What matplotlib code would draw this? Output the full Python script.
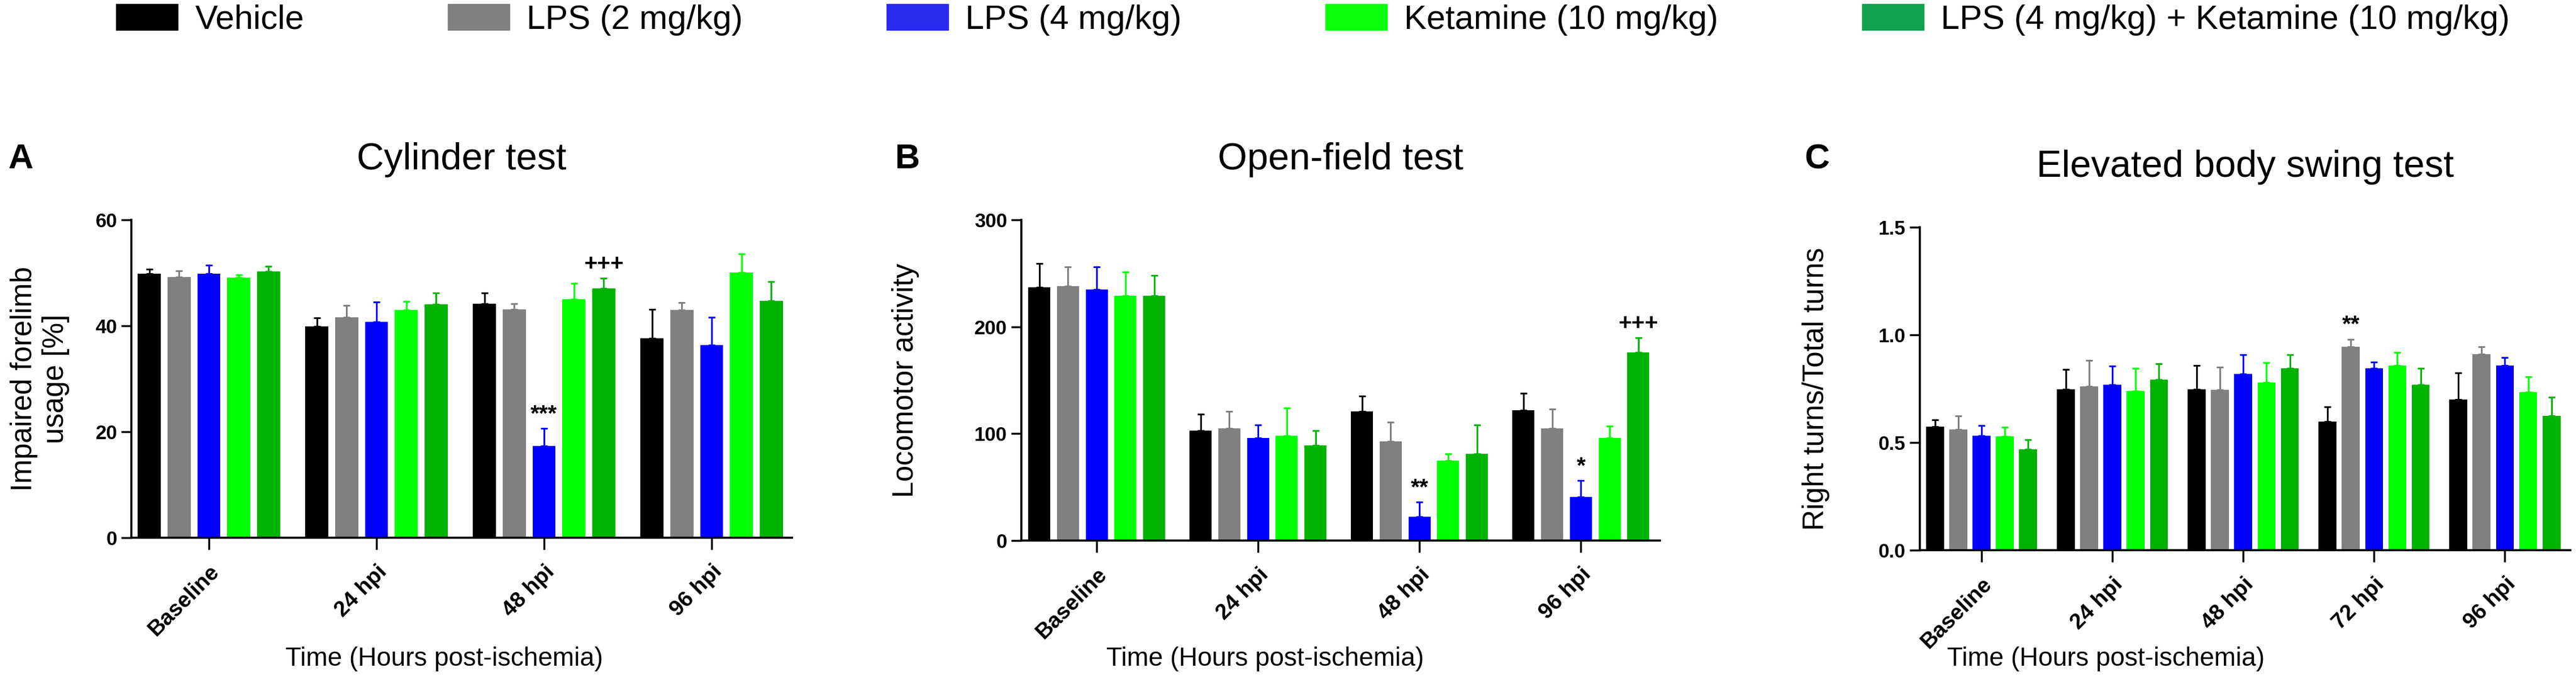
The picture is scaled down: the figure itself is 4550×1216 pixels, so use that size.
import matplotlib
matplotlib.use('Agg')
import matplotlib.pyplot as plt
from matplotlib.patches import Patch
import numpy as np

plt.rcParams['font.family'] = ['Liberation Sans', 'DejaVu Sans']

treatments = ['Vehicle', 'LPS (2 mg/kg)', 'LPS (4 mg/kg)', 'Ketamine (10 mg/kg)',
              'LPS (4 mg/kg) + Ketamine (10 mg/kg)']
bar_colors = ['#000000', '#808080', '#0000FF', '#00FF00', '#00B300']
legend_colors = ['#000000', '#808080', '#2B2BF0', '#0CFF0C', '#0FA34F']

groups_ab = ['Baseline', '24 hpi', '48 hpi', '96 hpi']
groups_c = ['Baseline', '24 hpi', '48 hpi', '72 hpi', '96 hpi']

# Cylinder test, impaired forelimb usage [%] (one row per treatment)
cyl_mean = [[49.8, 39.9, 44.2, 37.6],
            [49.2, 41.6, 43.1, 43.0],
            [49.8, 40.7, 17.3, 36.4],
            [49.1, 43.0, 45.0, 50.1],
            [50.3, 44.1, 47.1, 44.7]]
cyl_sem = [[0.9, 1.6, 2.0, 5.5],
           [1.2, 2.3, 1.1, 1.4],
           [1.6, 3.8, 3.3, 5.2],
           [0.5, 1.6, 3.0, 3.5],
           [0.9, 2.1, 1.9, 3.6]]

# Open-field test, locomotor activity
of_mean = [[237, 103, 121, 122],
           [238, 105, 93, 105],
           [235, 96, 22, 41],
           [229, 98, 75, 96],
           [229, 89, 81, 176]]
of_sem = [[22, 15, 14, 16],
          [18, 16, 18, 18],
          [21, 12, 14, 15],
          [22, 26, 6, 11],
          [19, 14, 27, 14]]

# Elevated body swing test, right turns / total turns
ebst_mean = [[0.574, 0.748, 0.748, 0.598, 0.699],
             [0.560, 0.760, 0.745, 0.944, 0.910],
             [0.531, 0.769, 0.819, 0.845, 0.858],
             [0.529, 0.739, 0.780, 0.858, 0.733],
             [0.469, 0.793, 0.845, 0.769, 0.625]]
ebst_sem = [[0.031, 0.091, 0.111, 0.067, 0.126],
            [0.064, 0.121, 0.104, 0.036, 0.034],
            [0.047, 0.087, 0.088, 0.030, 0.036],
            [0.043, 0.106, 0.090, 0.061, 0.072],
            [0.044, 0.073, 0.062, 0.076, 0.086]]

# significance marks: (group index, treatment index, text)
cyl_marks = [(2, 2, '***'), (2, 4, '+++')]
of_marks = [(2, 2, '**'), (3, 2, '*'), (3, 4, '+++')]
ebst_marks = [(3, 1, '**')]

step = 0.178
width = 0.137


def draw_panel(ax, groups, means, sems, marks, yticks, ylim, xlim, title, ylabel,
               ylabel_x, fmt=None):
    x = np.arange(len(groups))
    for i in range(len(treatments)):
        pos = x + (i - 2) * step
        m = np.array(means[i])
        s = np.array(sems[i])
        ax.bar(pos, m, width=width, color=bar_colors[i], zorder=2)
        ax.errorbar(pos, m, yerr=[np.zeros_like(s), s], fmt='none', ecolor=bar_colors[i],
                    elinewidth=2.2, capsize=4, capthick=2.2, zorder=1)
    for g, t, txt in marks:
        ax.annotate(txt, (g + (t - 2) * step, means[t][g] + sems[t][g]),
                    xytext=(0, 4), textcoords='offset points', ha='center', va='bottom',
                    fontsize=29, fontweight='bold')
    ax.set_xlim(*xlim)
    ax.set_ylim(*ylim)
    ax.set_yticks(yticks)
    if fmt:
        ax.set_yticklabels([fmt % v for v in yticks])
    ax.set_xticks(x)
    ax.set_xticklabels(groups, rotation=45, ha='right', rotation_mode='anchor',
                       fontsize=28, fontweight='bold')
    for lab in ax.get_yticklabels():
        lab.set_fontweight('bold')
        lab.set_fontsize(25)
    ax.tick_params(axis='y', length=13, width=2.5, pad=5)
    ax.tick_params(axis='x', length=15, width=2.5, pad=15)
    for side in ['top', 'right']:
        ax.spines[side].set_visible(False)
    for side in ['left', 'bottom']:
        ax.spines[side].set_linewidth(2.6)
    ax.set_title(title, fontsize=48, pad=64)
    ax.set_ylabel(ylabel, fontsize=37)
    ax.yaxis.set_label_coords(ylabel_x, 0.5)


fig = plt.figure(figsize=(45.5, 12.16), dpi=100)

ax_a = fig.add_axes([0.05099, 0.21957, 0.25648, 0.46135])
ax_b = fig.add_axes([0.39648, 0.21546, 0.24791, 0.46546])
ax_c = fig.add_axes([0.74527, 0.20148, 0.25253, 0.46875])

draw_panel(ax_a, groups_ab, cyl_mean, cyl_sem, cyl_marks, [0, 20, 40, 60], (0, 60),
           (-0.463, 3.48), 'Cylinder test', 'Impaired forelimb\nusage [%]', -0.093)
draw_panel(ax_b, groups_ab, of_mean, of_sem, of_marks, [0, 100, 200, 300], (0, 300),
           (-0.467, 3.49), 'Open-field test', 'Locomotor activity', -0.16)
draw_panel(ax_c, groups_c, ebst_mean, ebst_sem, ebst_marks, [0, 0.5, 1.0, 1.5], (0, 1.5),
           (-0.472, 4.50), 'Elevated body swing test', 'Right turns/Total turns', -0.138,
           fmt='%.1f')

for ax, xc in [(ax_a, 785), (ax_b, 2235), (ax_c, 3720)]:
    fig.text(xc / 4550, 1 - 1175 / 1216, 'Time (Hours post-ischemia)', fontsize=33,
             ha='center', va='baseline')

for letter, xl in [('A', 14), ('B', 1581), ('C', 3188)]:
    fig.text(xl / 4550, 1 - 297 / 1216, letter, fontsize=44, fontweight='bold',
             ha='left', va='baseline')

handles = [Patch(color=c, label=t) for c, t in zip(legend_colors, treatments)]
fig.legend(handles=handles, loc='center left', bbox_to_anchor=(0.0451, 0.9712), ncol=5,
           frameon=False, fontsize=43, handlelength=1.83, handleheight=0.8,
           handletextpad=0.5, columnspacing=4.25, borderpad=0, borderaxespad=0)

fig.savefig('out.png', dpi=100)
